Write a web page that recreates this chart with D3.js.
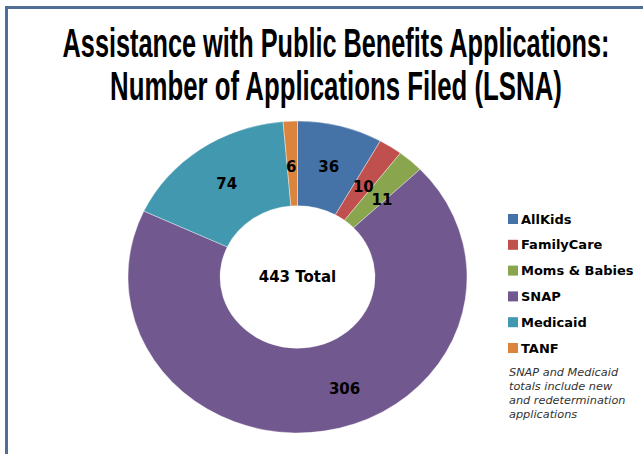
<!DOCTYPE html>
<html><head><meta charset="utf-8">
<script src="https://cdn.jsdelivr.net/npm/d3@7"></script>
<style>html,body{margin:0;padding:0;background:#fff;overflow:hidden}</style>
</head><body>
<svg id="c" width="643" height="454"></svg>
<script>
const categories = ["AllKids", "FamilyCare", "Moms & Babies", "SNAP", "Medicaid", "TANF"];
const values = [36, 10, 11, 306, 74, 6];
const colors = ["#4572A7", "#C0504D", "#89A54E", "#71588F", "#4198AF", "#DB843D"];
const titleLines = ["Assistance with Public Benefits Applications:", "Number of Applications Filed (LSNA)"];
const centerLabel = "443 Total";
const noteLines = ["SNAP and Medicaid", "totals include new", "and redetermination", "applications"];
const labelNudge = [[0,0],[-2,5],[2,7],[27,0],[0,0],[-1,3]];

const svg = d3.select("#c");
// frame
svg.append("path").attr("d","M6.5,454 L6.5,7.5 L643,7.5").attr("fill","none")
  .attr("stroke","#4F6F94").attr("stroke-width",3);

// title (horizontally compressed to the reference width)
const titleWidths = [547, 452];
titleLines.forEach((t,i)=>{
  const tg = svg.append("g");
  const tx = tg.append("text").attr("x",0).attr("y",0).attr("text-anchor","middle")
    .attr("font-family","'Liberation Sans', Arial, sans-serif")
    .attr("font-weight","bold").attr("font-size",40).attr("fill","#000").text(t);
  const w = tx.node().getComputedTextLength();
  tg.attr("transform",`translate(336,${57+i*43}) scale(${titleWidths[i]/w},1)`);
});

const cx=297.5, cy=277, R=169.5, r=77.5, sy=0.92;
const pie = d3.pie().sort(null).value(d=>d)(values);
const arc = d3.arc().innerRadius(r).outerRadius(R);
const g = svg.append("g").attr("transform",`translate(${cx},${cy}) scale(1,${sy})`);
g.selectAll("path").data(pie).join("path").attr("d",arc).attr("fill",(d,i)=>colors[i])
  .attr("stroke","#fff").attr("stroke-width",0.4);

const lab = svg.append("g").attr("transform",`translate(${cx},${cy})`);
lab.selectAll("text").data(pie).join("text")
  .attr("x",(d,i)=>arc.centroid(d)[0]+labelNudge[i][0])
  .attr("y",(d,i)=>arc.centroid(d)[1]*sy+labelNudge[i][1])
  .attr("text-anchor","middle").attr("dy","0.35em")
  .attr("font-family","'DejaVu Sans', sans-serif").attr("font-weight","bold").attr("font-size",15)
  .attr("fill","#000").text(d=>d.data);

svg.append("text").attr("x",cx).attr("y",cy).attr("dy","0.35em").attr("text-anchor","middle")
  .attr("font-family","'DejaVu Sans', sans-serif").attr("font-weight","bold").attr("font-size",15)
  .text(centerLabel);

// legend
const leg = svg.append("g");
const ly = d3.scalePoint().domain(categories).range([219,348]);
leg.selectAll("rect").data(categories).join("rect")
  .attr("x",508).attr("y",d=>ly(d)-5).attr("width",10).attr("height",10)
  .attr("fill",(d,i)=>colors[i]);
leg.selectAll("text").data(categories).join("text")
  .attr("x",521).attr("y",d=>ly(d)).attr("dy","0.36em")
  .attr("font-family","'DejaVu Sans', sans-serif").attr("font-weight","bold").attr("font-size",13)
  .attr("fill","#000").text(d=>d);

svg.selectAll("text.note").data(noteLines).join("text").attr("class","note")
  .attr("x",509).attr("y",(d,i)=>376+i*14)
  .attr("font-family","'DejaVu Sans', sans-serif").attr("font-style","italic").attr("font-size",11.3)
  .attr("fill","#333").text(d=>d);
</script>
</body></html>
